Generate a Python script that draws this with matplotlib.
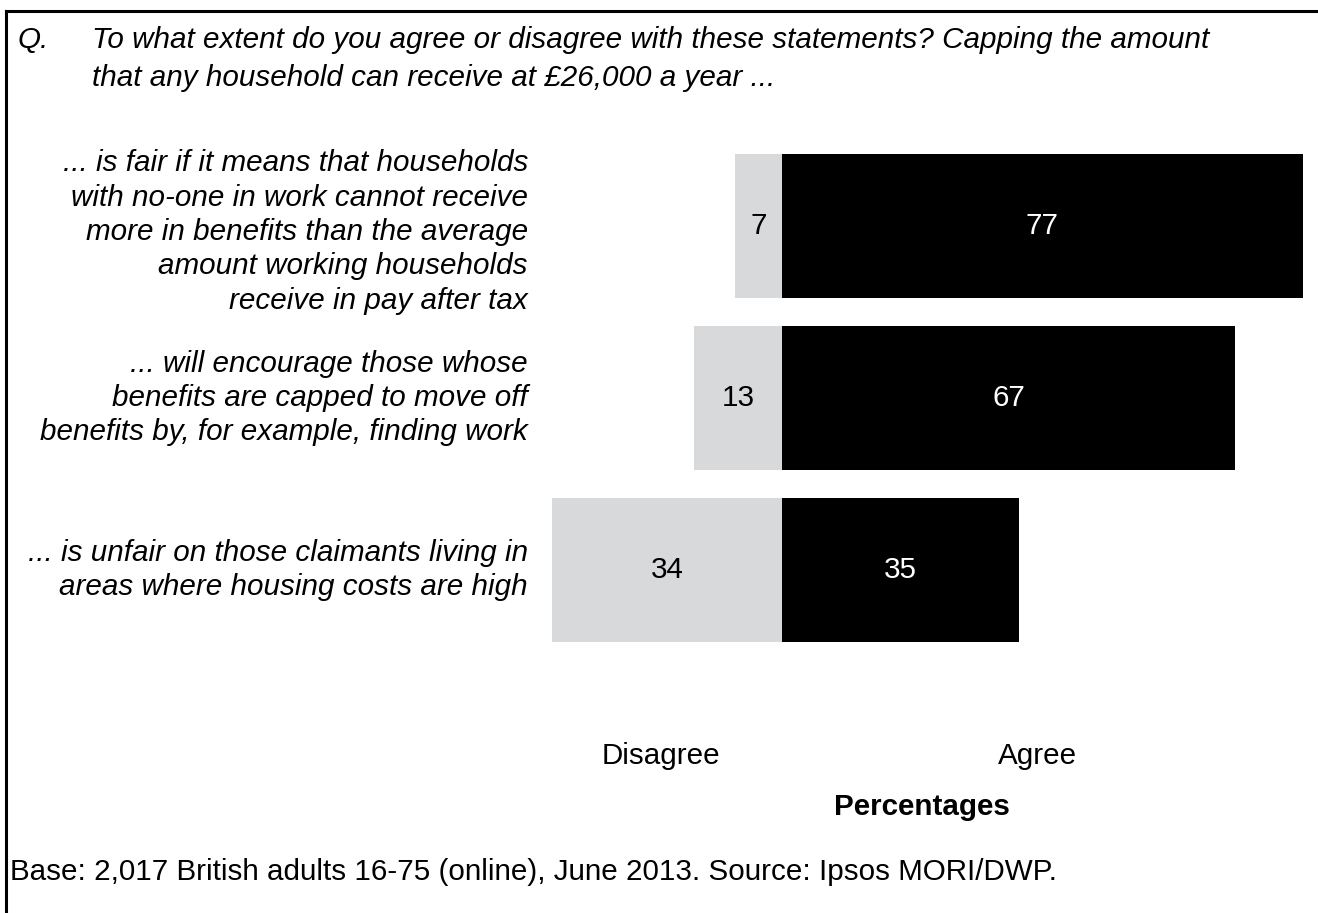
import matplotlib
matplotlib.use("Agg")
import matplotlib.pyplot as plt
from matplotlib.lines import Line2D

plt.rcParams['font.family'] = ['Liberation Sans', 'DejaVu Sans']

# Survey results (percent)
statements = [
    "... is fair if it means that households\nwith no-one in work cannot receive\nmore in benefits than the average\namount working households\nreceive in pay after tax",
    "... will encourage those whose\nbenefits are capped to move off\nbenefits by, for example, finding work",
    "... is unfair on those claimants living in\nareas where housing costs are high",
]
disagree = [7, 13, 34]
agree = [77, 67, 35]

question = ("To what extent do you agree or disagree with these statements? Capping the amount\n"
            "that any household can receive at \u00a326,000 a year ...")
footnote = "Base: 2,017 British adults 16-75 (online), June 2013. Source: Ipsos MORI/DWP."

W, H = 1318, 913
fig = plt.figure(figsize=(W / 100, H / 100), dpi=100)

GREY = "#d8d9db"
FS = 21.3

# bar area: 6.76 px per percentage point, zero line at x=782
px = 6.76
left = 782 - max(disagree) * px
right = 782 + max(agree) * px
top, bottom = 140, 656
ax = fig.add_axes([left / W, 1 - bottom / H, (right - left) / W, (bottom - top) / H])
ax.set_xlim(-max(disagree), max(agree))
ax.set_ylim(len(statements) - 0.5, -0.5)
ax.axis("off")

ypos = list(range(len(statements)))
ax.barh(ypos, [-d for d in disagree], height=0.837, color=GREY, linewidth=0)
ax.barh(ypos, agree, height=0.837, color="black", linewidth=0)

for y, d, a in zip(ypos, disagree, agree):
    ax.text(-d / 2, y, str(d), ha="center", va="center", fontsize=FS, color="black")
    ax.text(a / 2, y, str(a), ha="center", va="center", fontsize=FS, color="white")

label_y = [232, 398, 570]
for s, ly in zip(statements, label_y):
    fig.text(528 / W, 1 - ly / H, s, ha="right", va="center", fontsize=FS,
             style="italic", linespacing=1.29)

# question header
fig.text(18 / W, 1 - 40 / H, "Q.", ha="left", va="center", fontsize=FS, style="italic")
fig.text(92 / W, 1 - 59 / H, question, ha="left", va="center", fontsize=FS,
         style="italic", linespacing=1.41)

fig.text(661 / W, 1 - 756 / H, "Disagree", ha="center", va="center", fontsize=FS)
fig.text(1038 / W, 1 - 756 / H, "Agree", ha="center", va="center", fontsize=FS)
fig.text(922 / W, 1 - 807 / H, "Percentages", ha="center", va="center", fontsize=FS,
         fontweight="bold")
fig.text(10 / W, 1 - 872 / H, footnote, ha="left", va="center", fontsize=FS)

# frame lines on top and left
fig.add_artist(Line2D([6 / W, 6 / W], [0, 1 - 11 / H], color="black", lw=2.2,
                      transform=fig.transFigure))
fig.add_artist(Line2D([6 / W, 1], [1 - 11 / H, 1 - 11 / H], color="black", lw=2.2,
                      transform=fig.transFigure))

fig.savefig("out.png", dpi=100)
